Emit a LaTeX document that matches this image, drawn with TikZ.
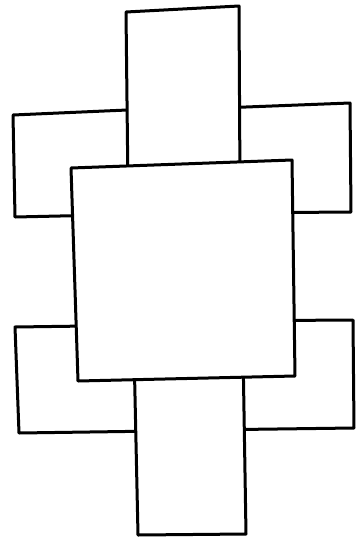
\documentclass[tikz,border=0pt]{standalone}
\usepackage{tikz}

\begin{document}
\begin{tikzpicture}[
    x=1pt, y=-1pt,
    flate/.style={draw, line width=3pt, line join=round, fill=white}
]
    \useasboundingbox (0,0) rectangle (364,539);

    % Sideflatene (ligger nederst, delvis skjult)
    \draw [flate] (13,115) -- (150,109) -- (150,214) -- (15,217) -- cycle;
    \draw [flate] (220,108) -- (350,103) -- (351,212) -- (220,213) -- cycle;
    \draw [flate] (15,327) -- (160,325) -- (160,431) -- (19,433) -- cycle;
    \draw [flate] (200,321) -- (353,320) -- (354,428) -- (200,430) -- cycle;

    % Flatene over og under
    \draw [flate] (126,12) -- (239,6) -- (240,185) -- (128,190) -- cycle;
    \draw [flate] (134,350) -- (243,350) -- (246,534) -- (138,535) -- cycle;

    % Midtflaten (legges over alt)
    \draw [flate] (71,168) -- (292,160) -- (295,376) -- (78,381) -- cycle;

\end{tikzpicture}
\end{document}
